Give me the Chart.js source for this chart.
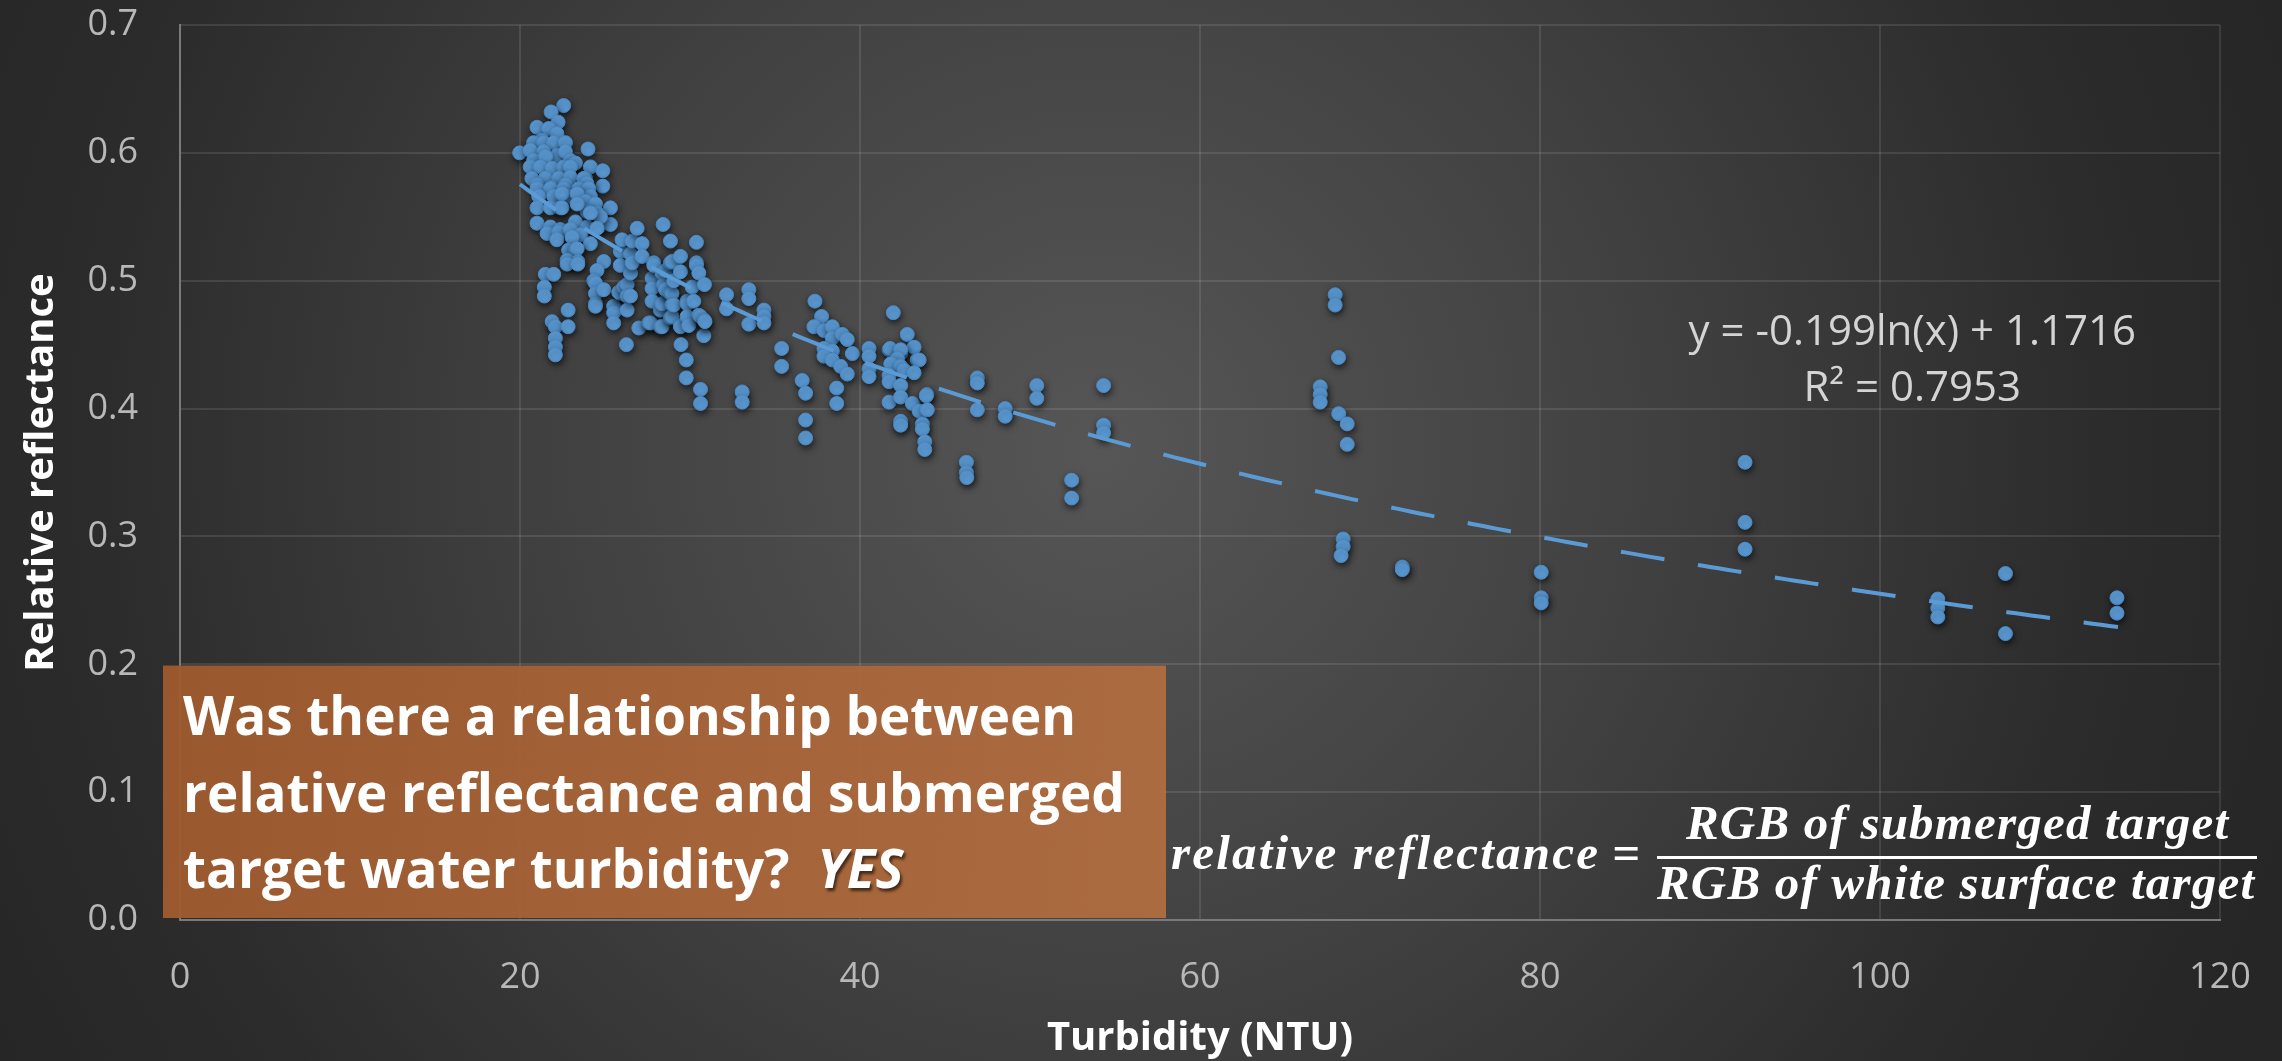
<!DOCTYPE html>
<html>
<head>
<meta charset="utf-8">
<title>Relative reflectance vs turbidity</title>
<script src="https://cdn.jsdelivr.net/npm/chart.js@4.4.1/dist/chart.umd.min.js"></script>
<style>
  html, body { margin: 0; padding: 0; background: #262626; overflow: hidden; }
  #wrap { width: 2282px; height: 1061px; }
</style>
</head>
<body>
<div id="wrap"><canvas id="reflChart" width="2282" height="1061"></canvas></div>
<script>
'use strict';

// turbidity (NTU) per sample
var turbidityNTU = [
  22.57, 21.83, 22.24, 21.00, 21.69, 22.17, 21.30,
  20.80, 21.39, 21.98, 22.67, 19.98, 20.60, 21.39, 22.17, 22.67, 24.00,
  20.80, 21.50, 22.96, 20.60, 21.20, 21.89, 22.57, 23.26, 24.14, 24.87, 22.96,
  20.70, 21.49, 22.28, 22.96, 23.85, 23.75, 24.87, 21.00, 21.89, 22.67, 23.94,
  21.00, 21.79, 22.57, 23.45, 24.04, 21.10, 21.98, 22.86, 23.55, 24.14, 22.47, 23.36,
  23.85, 24.44, 25.32, 21.00, 21.79, 22.37, 23.94, 24.53, 22.47, 23.36,
  21.00, 21.79, 22.37, 23.26, 23.94, 24.63, 25.32, 24.73, 24.14,
  21.59, 22.28, 22.96, 23.55, 24.53, 22.17, 23.06, 24.14, 22.86, 23.26, 23.36, 22.77, 23.40, 22.77, 23.40,
  21.49, 21.98, 21.43, 21.43, 22.83, 21.89, 22.08, 22.83, 22.08, 22.08, 22.08,
  24.93, 24.53, 24.34, 24.44, 24.44, 24.44, 24.44, 24.93, 25.51, 25.51, 25.51,
  25.90, 25.90, 25.90, 25.81, 26.00, 26.10, 26.30, 26.30, 26.30, 26.50, 26.50, 26.50, 26.60, 26.60, 26.89, 26.99, 26.26,
  27.18, 27.18, 27.58, 27.67, 27.77, 27.77, 27.77, 27.87, 27.87,
  28.26, 28.26, 28.36, 28.36, 28.36, 28.42, 28.45, 28.56, 28.56,
  28.85, 28.85, 28.85, 28.85, 28.94, 28.94, 28.94, 28.94, 29.05, 29.05,
  29.44, 29.44, 29.44, 29.44, 29.47, 29.78, 29.78, 29.83, 29.83, 29.83, 29.93,
  30.13, 30.22, 30.38, 30.38, 30.38, 30.52, 30.52, 30.62, 30.81, 30.85, 30.85, 30.88, 30.62, 30.62,
  32.15, 32.15, 33.46, 33.46, 33.46, 34.35, 34.35, 34.35, 33.07, 33.07, 35.39, 35.39,
  37.35, 37.74, 37.29, 37.88, 38.37, 38.37, 38.96, 39.25, 37.88, 38.37, 37.88, 38.37, 39.55,
  38.86, 39.25, 40.53, 40.53, 40.53, 40.53, 36.60, 36.80, 36.80, 36.80, 38.63, 38.63,
  41.96, 42.78, 43.18, 41.71, 41.77, 42.39, 42.39, 42.20, 43.37, 43.48,
  41.81, 42.39, 42.59, 43.18, 41.71, 41.71, 42.39, 41.71, 42.39, 43.08, 43.93, 43.90,
  43.48, 43.96, 42.39, 42.39, 43.67, 43.67, 43.81, 43.81,
  46.90, 46.90, 46.90, 46.26, 46.26, 46.28, 48.54, 48.54, 50.40, 50.40, 52.45, 52.45, 54.33, 54.33, 54.33,
  67.95, 67.95, 68.15, 67.07, 67.07, 67.07, 68.16, 68.66, 68.66, 68.42, 68.42, 68.30, 71.90, 71.90,
  80.07, 80.07, 80.07, 92.06, 92.06, 92.06, 103.40, 103.40, 103.40, 107.38, 107.38, 113.94, 113.94
];

// relative reflectance, same order as turbidityNTU
var relReflectance = [
  0.637, 0.632, 0.624, 0.620, 0.619, 0.615, 0.610,
  0.608, 0.608, 0.608, 0.608, 0.600, 0.602, 0.601, 0.598, 0.601, 0.603,
  0.594, 0.597, 0.594, 0.589, 0.589, 0.588, 0.589, 0.592, 0.589, 0.586, 0.589,
  0.580, 0.580, 0.580, 0.581, 0.580, 0.580, 0.574, 0.575, 0.573, 0.575, 0.576,
  0.572, 0.572, 0.572, 0.572, 0.572, 0.566, 0.566, 0.566, 0.566, 0.566, 0.568, 0.568,
  0.562, 0.560, 0.557, 0.557, 0.557, 0.557, 0.554, 0.553, 0.557, 0.560,
  0.545, 0.542, 0.540, 0.546, 0.542, 0.542, 0.544, 0.550, 0.553,
  0.537, 0.538, 0.540, 0.536, 0.541, 0.532, 0.534, 0.529, 0.524, 0.524, 0.525, 0.516, 0.515, 0.513, 0.513,
  0.505, 0.505, 0.495, 0.488, 0.477, 0.468, 0.464, 0.464, 0.455, 0.448, 0.442,
  0.515, 0.508, 0.500, 0.498, 0.490, 0.482, 0.480, 0.493, 0.480, 0.475, 0.467,
  0.523, 0.512, 0.490, 0.491, 0.532, 0.495, 0.497, 0.488, 0.477, 0.521, 0.506, 0.488, 0.531, 0.514, 0.541, 0.463, 0.450,
  0.529, 0.519, 0.467, 0.467, 0.502, 0.494, 0.484, 0.514, 0.512,
  0.477, 0.464, 0.506, 0.482, 0.464, 0.544, 0.497, 0.508, 0.493,
  0.531, 0.514, 0.490, 0.471, 0.515, 0.490, 0.481, 0.472, 0.500, 0.481,
  0.519, 0.507, 0.465, 0.464, 0.450, 0.438, 0.424, 0.484, 0.482, 0.472, 0.465,
  0.495, 0.484, 0.530, 0.514, 0.512, 0.506, 0.473, 0.472, 0.457, 0.497, 0.469, 0.468, 0.415, 0.404,
  0.489, 0.478, 0.493, 0.486, 0.466, 0.477, 0.472, 0.467, 0.413, 0.405, 0.447, 0.433,
  0.484, 0.472, 0.464, 0.461, 0.464, 0.455, 0.458, 0.454, 0.447, 0.445, 0.441, 0.438, 0.443,
  0.433, 0.427, 0.447, 0.441, 0.431, 0.425, 0.422, 0.412, 0.391, 0.377, 0.416, 0.404,
  0.475, 0.458, 0.448, 0.446, 0.447, 0.443, 0.446, 0.439, 0.438, 0.438,
  0.435, 0.433, 0.430, 0.428, 0.426, 0.421, 0.418, 0.405, 0.409, 0.404, 0.411, 0.410,
  0.398, 0.399, 0.390, 0.387, 0.388, 0.384, 0.374, 0.368,
  0.424, 0.420, 0.399, 0.358, 0.350, 0.346, 0.400, 0.394, 0.418, 0.408, 0.344, 0.330, 0.418, 0.387, 0.381,
  0.489, 0.481, 0.440, 0.417, 0.411, 0.405, 0.396, 0.388, 0.372, 0.298, 0.292, 0.285, 0.276, 0.274,
  0.272, 0.252, 0.248, 0.358, 0.311, 0.290, 0.251, 0.244, 0.237, 0.271, 0.224, 0.252, 0.240
];

var xTicks = [0, 20, 40, 60, 80, 100, 120];
var yTicks = [0.0, 0.1, 0.2, 0.3, 0.4, 0.5, 0.6, 0.7];

// log trendline printed on the chart: y = a ln(x) + b
var trendA = -0.199;
var trendB = 1.1716;
var trendR2 = 0.7953;
var trendRange = [20, 114];

var questionLines = [
  'Was there a relationship between',
  'relative reflectance and submerged',
  'target water turbidity?  '
];
var answerText = 'YES';

var scatterPoints = turbidityNTU.map(function (t, i) {
  return { x: t, y: relReflectance[i] };
});

var trendPoints = [];
for (var t = trendRange[0]; t <= trendRange[1]; t += 0.5) {
  trendPoints.push({ x: t, y: trendA * Math.log(t) + trendB });
}

function fitText(ctx, text, x, y, width) {
  ctx.letterSpacing = '0px';
  var w = ctx.measureText(text).width;
  if ('letterSpacing' in ctx && w < width) {
    ctx.letterSpacing = ((width - w) / (text.length - 1)) + 'px';
    ctx.fillText(text, x, y);
    ctx.letterSpacing = '0px';
  } else {
    ctx.save();
    ctx.translate(x, y);
    ctx.scale(width / w, 1);
    ctx.fillText(text, 0, 0);
    ctx.restore();
  }
}

var backdrop = {
  id: 'backdrop',
  beforeDraw: function (chart) {
    var ctx = chart.ctx;
    var g = ctx.createRadialGradient(1100, 450, 0, 1100, 450, 1250);
    g.addColorStop(0, '#565656');
    g.addColorStop(0.45, '#404040');
    g.addColorStop(0.8, '#2c2c2c');
    g.addColorStop(1, '#262626');
    ctx.save();
    ctx.fillStyle = g;
    ctx.fillRect(0, 0, chart.width, chart.height);
    ctx.restore();
  }
};

var pointShadow = {
  id: 'pointShadow',
  beforeDatasetDraw: function (chart, args) {
    if (args.index !== 1) return;
    var ctx = chart.ctx;
    ctx.save();
    ctx.shadowColor = 'rgba(0, 0, 0, 0.6)';
    ctx.shadowBlur = 6;
    ctx.shadowOffsetX = 1;
    ctx.shadowOffsetY = 3;
  },
  afterDatasetDraw: function (chart, args) {
    if (args.index !== 1) return;
    chart.ctx.restore();
  }
};

var overlay = {
  id: 'overlay',
  afterDraw: function (chart) {
    var ctx = chart.ctx;
    var xs = chart.scales.x, ys = chart.scales.y, area = chart.chartArea;
    ctx.save();

    // trendline equation
    ctx.fillStyle = '#d4d4d4';
    ctx.font = '42px "Open Sans"';
    ctx.textAlign = 'center';
    ctx.textBaseline = 'middle';
    var lx = xs.getPixelForValue(101.9);
    ctx.fillText('y = ' + trendA + 'ln(x) + ' + trendB, lx, ys.getPixelForValue(0.459));
    ctx.fillText('R\u00B2 = ' + trendR2, lx, ys.getPixelForValue(0.415));

    // question box
    var bl = area.left - 17, br = xs.getPixelForValue(58);
    var bt = ys.getPixelForValue(0.199), bb = area.bottom - 2;
    var bg = ctx.createLinearGradient(bl, bt, br, bb);
    bg.addColorStop(0, 'rgba(160, 90, 45, 0.94)');
    bg.addColorStop(1, 'rgba(178, 110, 64, 0.94)');
    ctx.fillStyle = bg;
    ctx.fillRect(bl, bt, br - bl, bb - bt);

    ctx.textAlign = 'left';
    ctx.textBaseline = 'alphabetic';
    ctx.fillStyle = '#ffffff';
    ctx.font = 'bold 53px "Open Sans"';
    var baselines = [735, 812, 888];
    questionLines.forEach(function (line, i) {
      ctx.fillText(line, 183, baselines[i]);
    });
    var yesX = 183 + ctx.measureText(questionLines[2]).width;
    ctx.font = 'italic bold 53px "Open Sans"';
    ctx.shadowColor = 'rgba(0, 0, 0, 0.6)';
    ctx.shadowOffsetX = 2;
    ctx.shadowOffsetY = 3;
    ctx.shadowBlur = 3;
    ctx.fillText(answerText, yesX, baselines[2]);
    ctx.shadowColor = 'transparent';

    // definition of relative reflectance
    ctx.font = 'italic bold 49px "Liberation Serif"';
    fitText(ctx, 'relative reflectance', 1171, 869, 427);
    ctx.fillText('=', 1612, 869);
    fitText(ctx, 'RGB of submerged target', 1686, 839, 542);
    fitText(ctx, 'RGB of white surface target', 1657, 899, 597);
    ctx.fillRect(1657, 856, 600, 3);

    ctx.restore();
  }
};

var ctx = document.getElementById('reflChart').getContext('2d');
var chart = new Chart(ctx, {
  type: 'scatter',
  data: {
    datasets: [{
      label: 'Trend',
      data: trendPoints,
      showLine: true,
      borderColor: '#5B9BD5',
      borderWidth: 4,
      borderDash: [44, 34],
      pointRadius: 0,
      fill: false,
      order: 0
    }, {
      label: 'Relative reflectance',
      data: scatterPoints,
      backgroundColor: '#5B9BD5',
      borderColor: '#4C8AC3',
      borderWidth: 1,
      pointRadius: 7,
      order: 1
    }]
  },
  options: {
    responsive: false,
    devicePixelRatio: 1,
    animation: false,
    layout: { padding: { top: 25, right: 62, left: 0, bottom: 0 } },
    plugins: {
      legend: { display: false },
      tooltip: { enabled: false }
    },
    scales: {
      x: {
        type: 'linear',
        min: xTicks[0],
        max: xTicks[xTicks.length - 1],
        ticks: {
          stepSize: xTicks[1] - xTicks[0],
          color: '#b8b8b8',
          font: { family: 'Open Sans', size: 36 },
          padding: 36
        },
        grid: { color: 'rgba(255, 255, 255, 0.1)', lineWidth: 2, drawTicks: false },
        border: { color: '#7a7a7a', width: 2 },
        title: {
          display: true,
          text: 'Turbidity (NTU)',
          color: '#ffffff',
          font: { family: 'Open Sans', size: 40, weight: 'bold', lineHeight: 1 },
          padding: { top: 0, bottom: 2 }
        },
        afterFit: function (scale) {
          scale.height = 141;
          scale.paddingLeft = 0;
          scale.paddingRight = 0;
        }
      },
      y: {
        type: 'linear',
        min: yTicks[0],
        max: yTicks[yTicks.length - 1],
        ticks: {
          stepSize: 0.1,
          color: '#b8b8b8',
          font: { family: 'Open Sans', size: 36 },
          padding: 42,
          callback: function (v) { return v.toFixed(1); }
        },
        grid: { color: 'rgba(255, 255, 255, 0.1)', lineWidth: 2, drawTicks: false },
        border: { color: '#7a7a7a', width: 2 },
        title: {
          display: true,
          text: 'Relative reflectance',
          color: '#ffffff',
          font: { family: 'Open Sans', size: 40, weight: 'bold', lineHeight: 1 },
          padding: { top: 22, bottom: 0 }
        },
        afterFit: function (scale) {
          scale.width = 180;
          scale.paddingTop = 0;
          scale.paddingBottom = 0;
        }
      }
    }
  },
  plugins: [backdrop, pointShadow, overlay]
});
</script>
</body>
</html>
